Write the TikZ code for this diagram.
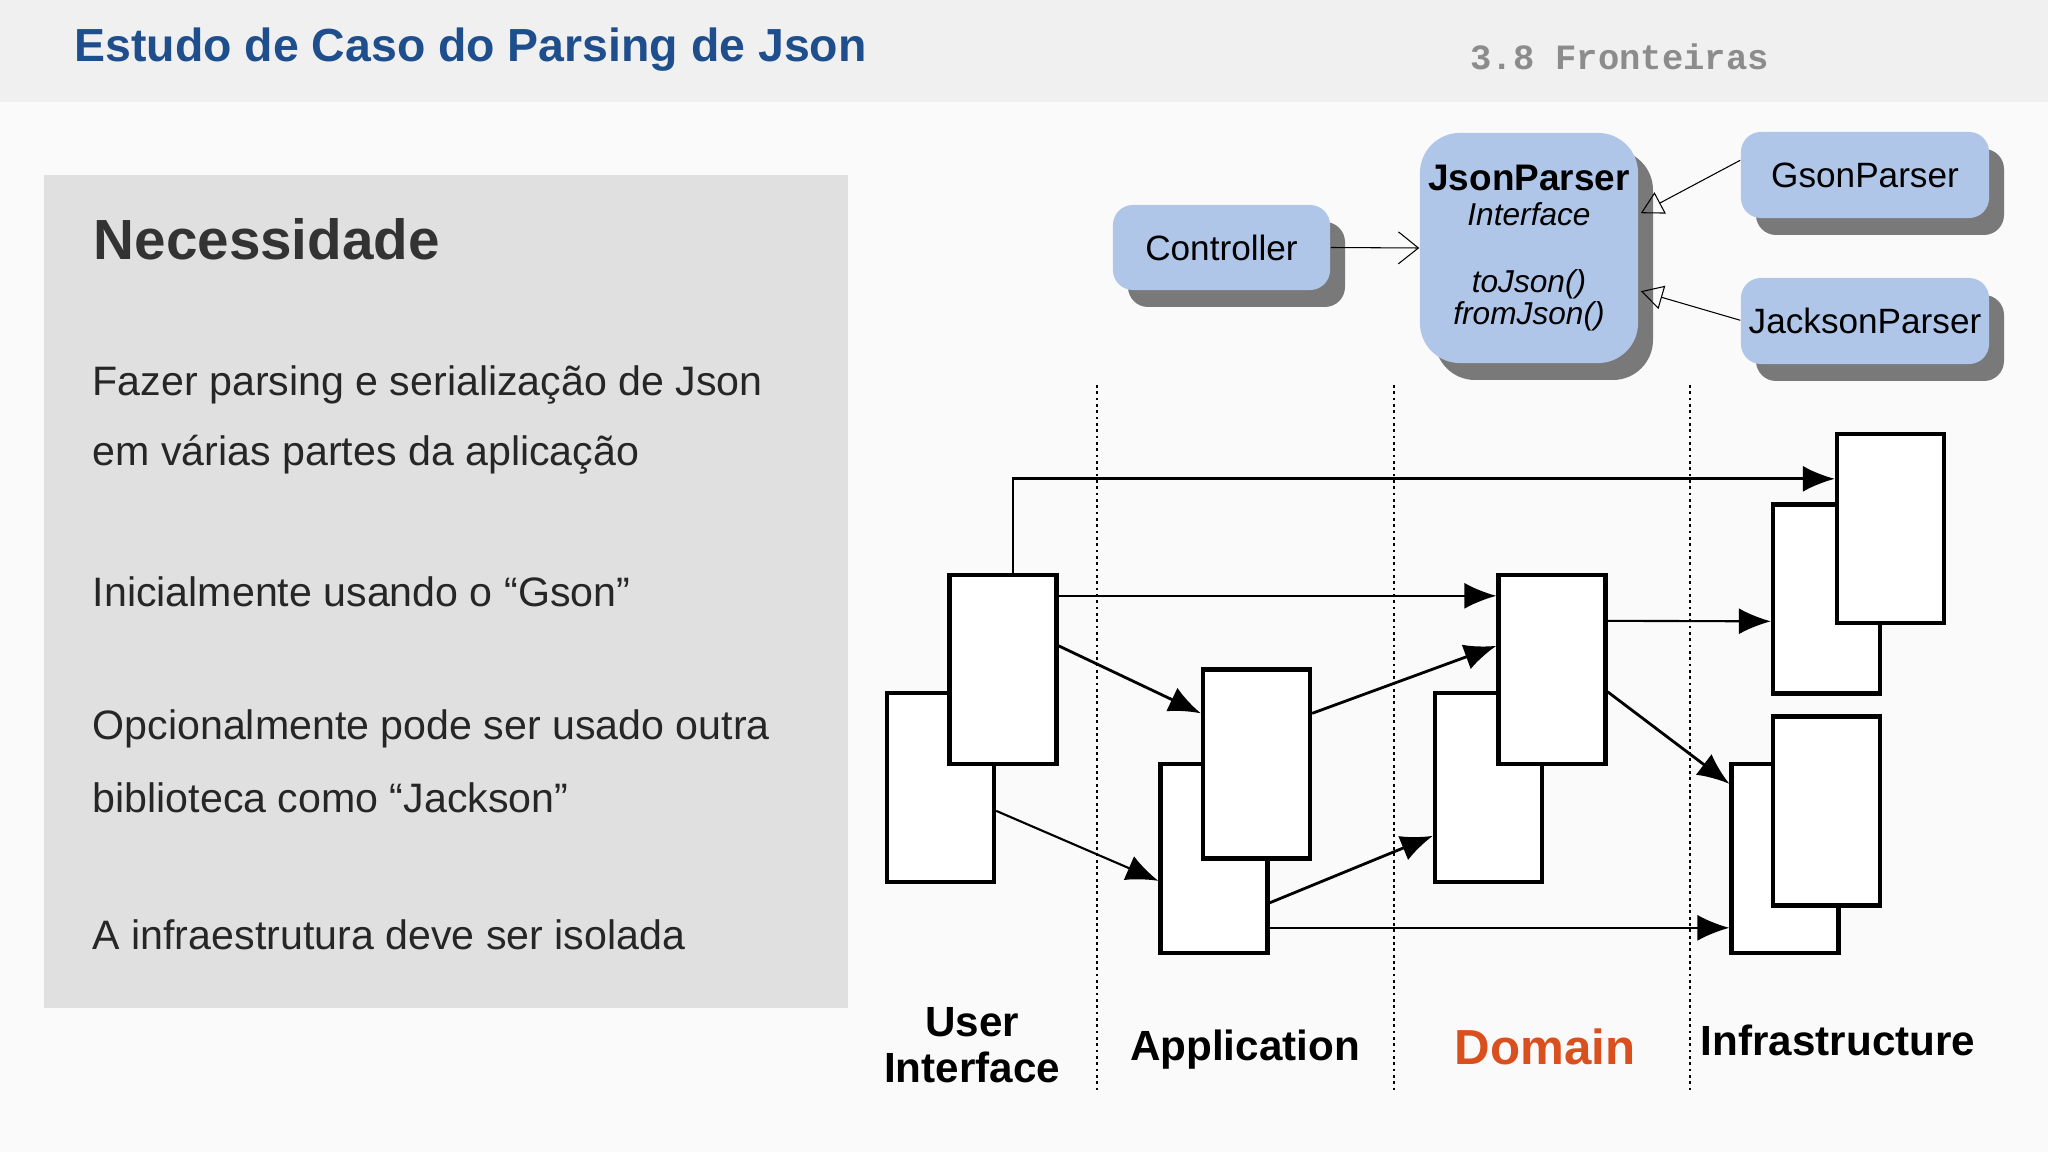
\documentclass[tikz,border=0pt]{standalone}
\usepackage{fontspec}
\setmainfont{Liberation Sans}
\newfontfamily\monofont{Liberation Mono}
\usetikzlibrary{calc}
\usetikzlibrary{arrows.meta}
\usetikzlibrary{positioning}
\definecolor{titleblue}{HTML}{1F4E8C}
\definecolor{umlblue}{HTML}{AFC6E9}
\definecolor{domainorange}{HTML}{D9501E}
\tikzstyle{umlbox}=[fill=umlblue, draw=none, rounded corners=2mm, align=center, inner sep=1pt, font={\fontsize{10}{12}\selectfont}]
\tikzstyle{umlshadow}=[fill=gray!95!black, draw=none, rounded corners=2mm]
\tikzstyle{lbox}=[draw=black, fill=white, line width=1.2pt, minimum width=1.07cm, minimum height=1.89cm, inner sep=0pt]
\tikzstyle{link}=[-{Latex[length=3.2mm, width=2.6mm]}, line width=.8pt]
\tikzstyle{thinlink}=[-{Latex[length=3.2mm, width=2.6mm]}, line width=.6pt]
\tikzstyle{layer}=[font={\bfseries\fontsize{12}{13}\selectfont}, align=center]
\tikzstyle{body}=[anchor=west, inner sep=0pt, font={\fontsize{11.7}{13}\selectfont}, text=black!85]

\begin{document}
\begin{tikzpicture}[x=0.01cm, y=-0.01cm]

    \useasboundingbox (0,0) rectangle (2048,1152);
    \fill[white!98!black] (0,0) rectangle (2048,1152);
    \fill[black!6] (0,0) rectangle (2048,102);

    \node[anchor=west, inner sep=0pt, text=titleblue, font={\bfseries\fontsize{13.2}{15}\selectfont}] (title) at (74,50) {Estudo de Caso do Parsing de Json};
    \node[anchor=west, text=black!45, font={\monofont\bfseries\fontsize{10.1}{12}\selectfont}] (section) at (1458,57) {3.8 Fronteiras};

    % left panel
    \fill[black!12] (44,175) rectangle (848,1008);
    \node[anchor=west, inner sep=0pt, text=black!80, font={\bfseries\fontsize{16.1}{18}\selectfont}] (need) at (93,239) {Necessidade};
    \node[body] (l1) at (92,385) {Fazer parsing e serialização de Json};
    \node[body] (l2) at (92,455) {em várias partes da aplicação};
    \node[body] (l3) at (92,592) {Inicialmente usando o “Gson”};
    \node[body] (l4) at (92,729) {Opcionalmente pode ser usado outra};
    \node[body] (l5) at (92,798) {biblioteca como “Jackson”};
    \node[body] (l6) at (92,935) {A infraestrutura deve ser isolada};

    % uml
    \fill[umlshadow] (1128,222) rectangle (1345,307);
    \node[umlbox, minimum width=2.17cm, minimum height=.85cm] (controller) at (1221.5,247.5) {Controller};
    \fill[umlshadow, rounded corners=4mm] (1435,150) rectangle (1653,380);
    \node[umlbox, minimum width=2.18cm, minimum height=2.3cm, rounded corners=4mm] (json) at (1529,248) {\textbf{\fontsize{10.5}{12}\selectfont JsonParser}\\[-2pt]\textit{\fontsize{9}{11}\selectfont Interface}\\[7pt]\textit{\fontsize{9}{11}\selectfont toJson()}\\[-3pt]\textit{\fontsize{9}{11}\selectfont fromJson()}};
    \fill[umlshadow] (1756,149) rectangle (2004,235);
    \node[umlbox, minimum width=2.48cm, minimum height=.86cm] (gson) at (1865,175) {GsonParser};
    \fill[umlshadow] (1756,295) rectangle (2004,381);
    \node[umlbox, minimum width=2.48cm, minimum height=.86cm] (jackson) at (1865,321) {JacksonParser};

    \draw[-{Straight Barb[length=2mm, width=3.2mm]}, line width=.3pt] (controller.east) -- (json.west);
    \draw[-{Triangle[open, length=2.2mm, width=2.4mm]}, line width=.3pt] ($(gson.north west)+(0,29)$) -- ($(json.north east)+(2,81)$);
    \draw[-{Triangle[open, length=2.2mm, width=2.4mm]}, line width=.3pt] ($(jackson.north west)+(0,43)$) -- ($(json.north east)+(2,159)$);

    % layers
    \foreach \x in {1097,1394,1690}
        \draw[densely dotted, line width=.8pt] (\x,385) -- (\x,1091);

    \node[lbox] (uib) at (940.5,787.5) {};
    \node[lbox] (uif) at (1003,669.5) {};
    \node[lbox] (appb) at (1214,858.5) {};
    \node[lbox] (appf) at (1256.5,764) {};
    \node[lbox] (domb) at (1488.5,787.5) {};
    \node[lbox] (domf) at (1552,669.5) {};
    \node[lbox] (inftb) at (1826.5,599) {};
    \node[lbox] (inftf) at (1890.5,528.5) {};
    \node[lbox] (infbb) at (1785,858.5) {};
    \node[lbox] (infbf) at (1826.5,811) {};

    \draw[link] ($(uif.north)+(10,0)$) |- ($(inftf.north west)+(0,47)$);
    \draw[thinlink] ($(uif.north east)+(0,23)$) -- ($(domf.north west)+(0,23)$);
    \draw[link] ($(uif.north east)+(0,73)$) -- ($(appf.north west)+(0,46)$);
    \draw[thinlink] ($(uib.north east)+(0,120)$) -- ($(appb.north west)+(0,119)$);
    \draw[link] ($(appf.north east)+(0,46)$) -- ($(domf.north west)+(0,73)$);
    \draw[link] ($(appb.north east)+(0,141)$) -- ($(domb.north west)+(0,145)$);
    \draw[thinlink] ($(appb.north east)+(0,166)$) -- ($(infbb.north west)+(0,166)$);
    \draw[thinlink] ($(domf.north east)+(0,48)$) -- ($(inftb.north west)+(0,119)$);
    \draw[link] ($(domf.north east)+(0,119)$) -- ($(infbb.north west)+(0,22)$);

    \node[layer] (ui) at (972,1045) {User\\Interface};
    \node[layer] (app) at (1245,1050) {Application};
    \node[layer, text=domainorange, font={\bfseries\fontsize{14}{16}\selectfont}] (dom) at (1545,1047) {Domain};
    \node[layer] (infra) at (1838,1040) {Infrastructure};

\end{tikzpicture}
\end{document}
